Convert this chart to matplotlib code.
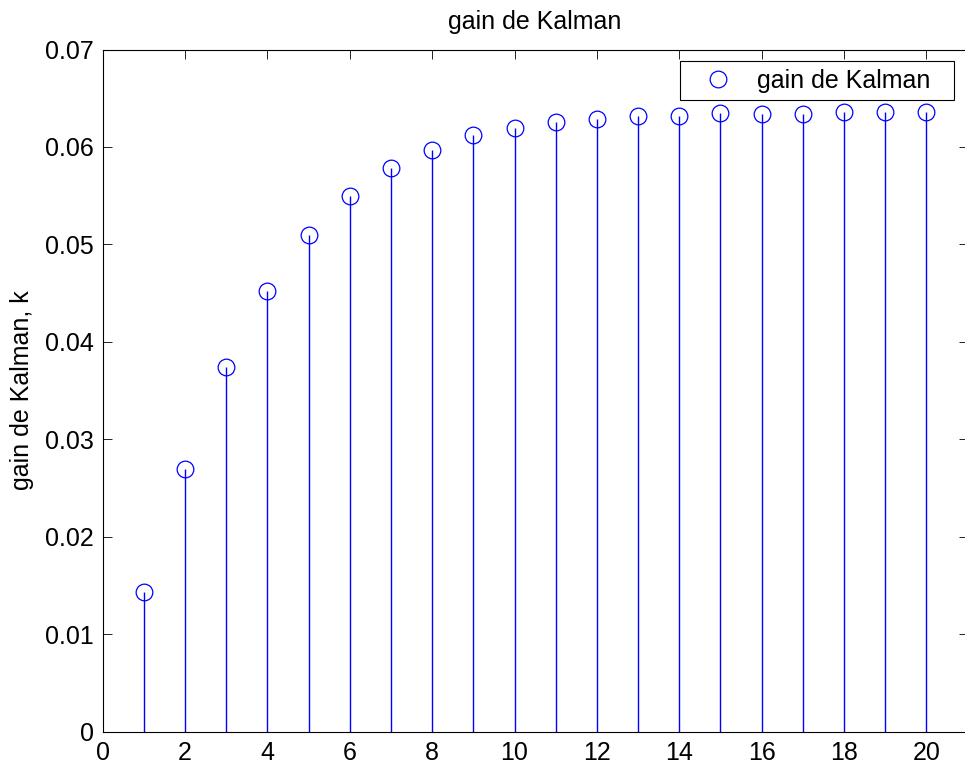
import matplotlib
matplotlib.use("Agg")
import matplotlib.pyplot as plt
import numpy as np

plt.rcParams['font.family'] = ['Liberation Sans', 'DejaVu Sans']

# iteration index and Kalman gain values
k_iter = np.arange(1, 21)
k_gain = [0.01436, 0.02692, 0.03739, 0.04522, 0.05093, 0.05500, 0.05787,
          0.05972, 0.06119, 0.06197, 0.06259, 0.06283, 0.06317, 0.06320,
          0.06345, 0.06342, 0.06342, 0.06361, 0.06361, 0.06361]

xticks = np.arange(0, 21, 2)
yticks = np.arange(0, 0.071, 0.01)
ytick_labels = ['0', '0.01', '0.02', '0.03', '0.04', '0.05', '0.06', '0.07']

W, H = 965, 767
fig = plt.figure(figsize=(W / 100, H / 100), dpi=100)
# axes box runs a little past the right border, as in the saved figure
ax = fig.add_axes([102.7 / W, 1 - 731.7 / H, (967.5 - 102.7) / W, (731.7 - 49.5) / H])

blue = '#0000ff'
markerline, stemlines, baseline = ax.stem(k_iter, k_gain, basefmt=' ')
stemlines.set_color(blue)
stemlines.set_linewidth(1.0)
markerline.set_marker('o')
markerline.set_markersize(12)
markerline.set_markerfacecolor('none')
markerline.set_markeredgecolor(blue)
markerline.set_markeredgewidth(0.9)

ax.set_xlim(0, 21)
ax.set_ylim(0, 0.07)
ax.set_xticks(xticks)
ax.set_yticks(yticks)
ax.set_yticklabels(ytick_labels)

for s in ax.spines.values():
    s.set_linewidth(0.8)
ax.tick_params(direction='in', length=6.5, width=0.6, labelsize=18,
               top=True, right=True, pad=6.5)
ax.tick_params(axis='x', pad=7)

ax.set_title('gain de Kalman', fontsize=18, pad=15)
ax.set_ylabel('gain de Kalman, k', fontsize=18)
ax.yaxis.set_label_coords(-0.079, 0.5)

# legend shows only the circle marker
leg = ax.legend([markerline], ['gain de Kalman'], loc='upper left', mode='expand',
                bbox_to_anchor=(680.3 / W, 1 - 101.3 / H, 274 / W, 40 / H),
                bbox_transform=fig.transFigure, borderaxespad=0,
                fontsize=18, fancybox=False, framealpha=1, edgecolor='black',
                borderpad=0.3, handlelength=2.44, handletextpad=0.32)
leg.get_frame().set_linewidth(0.8)

fig.savefig('out.png', dpi=100)
